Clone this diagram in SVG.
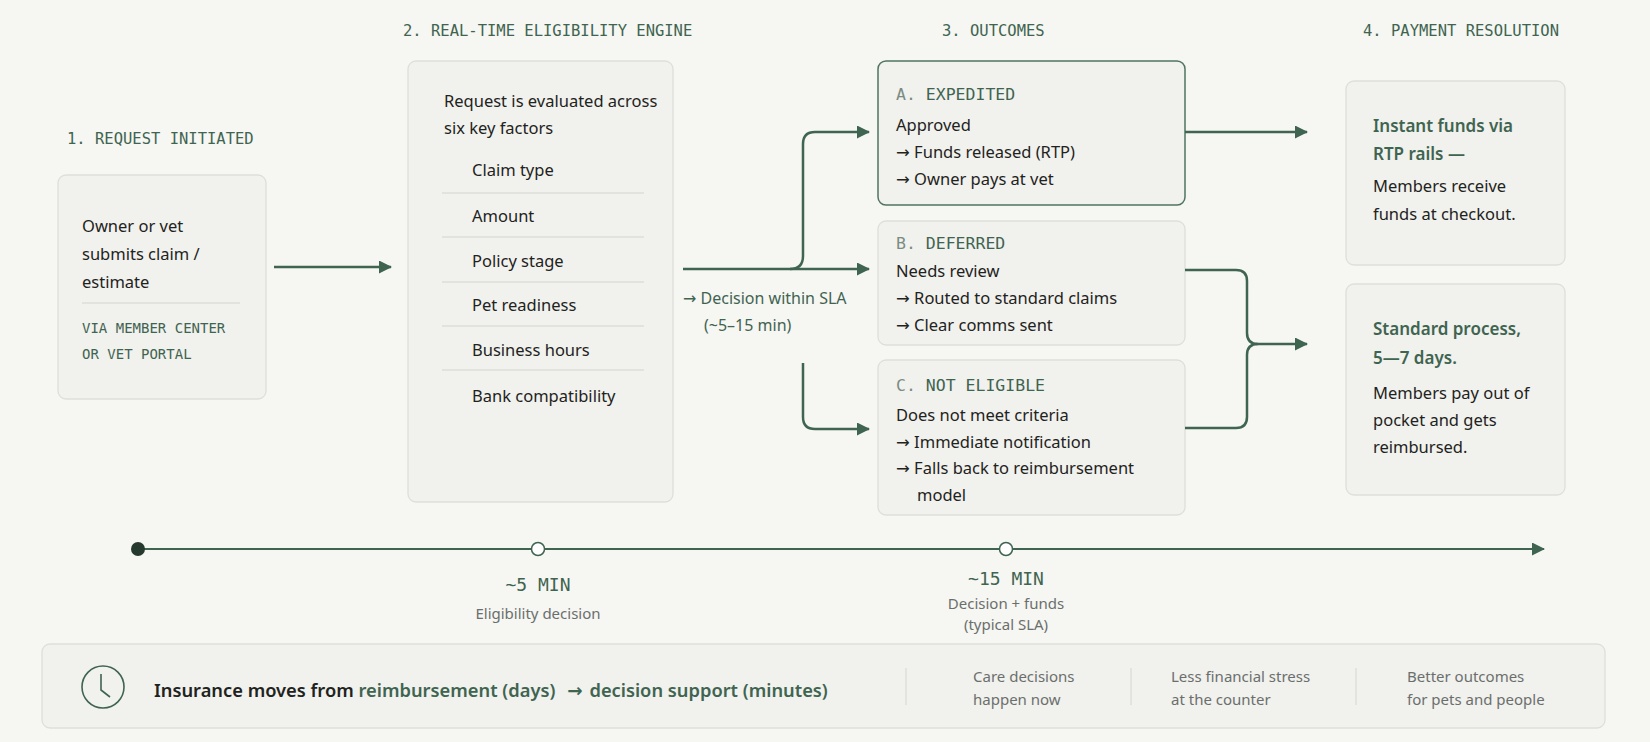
<svg xmlns="http://www.w3.org/2000/svg" width="1650" height="742" viewBox="0 0 1650 742">
<defs>
<marker id="ah" markerWidth="13" markerHeight="13" refX="12" refY="6.5" orient="auto" markerUnits="userSpaceOnUse"><path d="M0,0 L13,6.5 L0,13 z" fill="#3f6450"/></marker>
<style>
.hd{font-family:"DejaVu Sans Mono","Liberation Mono",monospace;font-size:15.5px;fill:#3f6450}
.lb{font-family:"DejaVu Sans Mono","Liberation Mono",monospace;font-size:16.5px;fill:#3f6450}
.tl{font-family:"DejaVu Sans Mono","Liberation Mono",monospace;font-size:18px;fill:#3f6450}
.mono{font-family:"DejaVu Sans Mono","Liberation Mono",monospace;font-size:14px;fill:#3f6450}
.t{font-family:"Noto Sans","Liberation Sans",sans-serif;font-size:16.5px;fill:#1e2320}
.g{font-family:"Noto Sans","Liberation Sans",sans-serif;font-size:16px;fill:#3f6450}
.gb{font-family:"Noto Sans","Liberation Sans",sans-serif;font-size:17px;fill:#3f6450;font-weight:600}
.s{font-family:"Noto Sans","Liberation Sans",sans-serif;font-size:15px;fill:#6b6f6c}
.sum{font-family:"Noto Sans","Liberation Sans",sans-serif;font-size:18.3px;fill:#1e2320;font-weight:600}
.ar{font-family:"DejaVu Sans",sans-serif}
.box{fill:#f1f1ee;stroke:#dededa;stroke-width:1.3}
.div{stroke:#dcdcd8;stroke-width:1.3}
.ln{fill:none;stroke:#3f6450;stroke-width:2.5}
</style>
</defs>
<rect width="1650" height="742" fill="#f6f6f3"/>
<text class="hd" x="67" y="144">1. REQUEST INITIATED</text>
<text class="hd" x="403" y="36">2. REAL-TIME ELIGIBILITY ENGINE</text>
<text class="hd" x="942" y="36">3. OUTCOMES</text>
<text class="hd" x="1363" y="36">4. PAYMENT RESOLUTION</text>
<g id="request">
<rect class="box" x="58" y="175" width="208" height="224" rx="8"/>
<text class="t" x="82" y="232">Owner or vet</text>
<text class="t" x="82" y="260">submits claim /</text>
<text class="t" x="82" y="288">estimate</text>
<line class="div" x1="82" y1="303" x2="240" y2="303"/>
<text class="mono" x="82" y="333">VIA MEMBER CENTER</text>
<text class="mono" x="82" y="359">OR VET PORTAL</text>
</g>
<g id="engine">
<rect class="box" x="408" y="61" width="265" height="441" rx="8"/>
<text class="t" x="444" y="107">Request is evaluated across</text>
<text class="t" x="444" y="134">six key factors</text>
<text class="t" x="472" y="176">Claim type</text>
<line class="div" x1="442" y1="193" x2="644" y2="193"/>
<text class="t" x="472" y="222">Amount</text>
<line class="div" x1="442" y1="237" x2="644" y2="237"/>
<text class="t" x="472" y="267">Policy stage</text>
<line class="div" x1="442" y1="282" x2="644" y2="282"/>
<text class="t" x="472" y="311">Pet readiness</text>
<line class="div" x1="442" y1="326" x2="644" y2="326"/>
<text class="t" x="472" y="356">Business hours</text>
<line class="div" x1="442" y1="370" x2="644" y2="370"/>
<text class="t" x="472" y="402">Bank compatibility</text>
</g>
<g id="outA">
<rect x="878" y="61" width="307" height="144" rx="8" fill="#f1f1ee" stroke="#4f7460" stroke-width="1.5"/>
<text class="lb" x="896" y="100"><tspan fill="#7a8c82">A. </tspan>EXPEDITED</text>
<text class="t" x="896" y="131">Approved</text>
<text class="t" x="896" y="158"><tspan class="ar">→</tspan> Funds released (RTP)</text>
<text class="t" x="896" y="185"><tspan class="ar">→</tspan> Owner pays at vet</text>
</g>
<g id="outB">
<rect class="box" x="878" y="221" width="307" height="124" rx="8"/>
<text class="lb" x="896" y="249"><tspan fill="#7a8c82">B. </tspan>DEFERRED</text>
<text class="t" x="896" y="277">Needs review</text>
<text class="t" x="896" y="304"><tspan class="ar">→</tspan> Routed to standard claims</text>
<text class="t" x="896" y="331"><tspan class="ar">→</tspan> Clear comms sent</text>
</g>
<g id="outC">
<rect class="box" x="878" y="360" width="307" height="155" rx="8"/>
<text class="lb" x="896" y="391"><tspan fill="#7a8c82">C. </tspan>NOT ELIGIBLE</text>
<text class="t" x="896" y="421">Does not meet criteria</text>
<text class="t" x="896" y="448"><tspan class="ar">→</tspan> Immediate notification</text>
<text class="t" x="896" y="474"><tspan class="ar">→</tspan> Falls back to reimbursement</text>
<text class="t" x="917" y="501">model</text>
</g>
<g id="pay1">
<rect class="box" x="1346" y="81" width="219" height="184" rx="8"/>
<text class="gb" x="1373" y="132">Instant funds via</text>
<text class="gb" x="1373" y="160">RTP rails —</text>
<text class="t" x="1373" y="192">Members receive</text>
<text class="t" x="1373" y="220">funds at checkout.</text>
</g>
<g id="pay2">
<rect class="box" x="1346" y="284" width="219" height="211" rx="8"/>
<text class="gb" x="1373" y="335">Standard process,</text>
<text class="gb" x="1373" y="364">5—7 days.</text>
<text class="t" x="1373" y="399">Members pay out of</text>
<text class="t" x="1373" y="426">pocket and gets</text>
<text class="t" x="1373" y="453">reimbursed.</text>
</g>
<g id="connectors">
<line class="ln" x1="274" y1="267" x2="391" y2="267" marker-end="url(#ah)"/>
<path class="ln" d="M683 269 H869" marker-end="url(#ah)"/>
<path class="ln" d="M790 269 Q803 269 803 256 V144 Q803 132 815 132 H869" marker-end="url(#ah)"/>
<path class="ln" d="M803 363 V417 Q803 429 815 429 H869" marker-end="url(#ah)"/>
<path class="ln" d="M1185 132 H1307" marker-end="url(#ah)"/>
<path class="ln" d="M1185 270 H1236 Q1247 270 1247 281 V333 Q1247 344 1258 344 H1307" marker-end="url(#ah)"/>
<path class="ln" d="M1185 428 H1236 Q1247 428 1247 417 V355 Q1247 344 1258 344"/>
<text class="g" x="683" y="304"><tspan class="ar">→</tspan> Decision within SLA</text>
<text class="g" x="704" y="331">(~5–15 min)</text>
</g>
<g id="timeline">
<line x1="138" y1="549" x2="1544" y2="549" stroke="#3f6450" stroke-width="2" marker-end="url(#ah)"/>
<circle cx="138" cy="549" r="7" fill="#26392f"/>
<circle cx="538" cy="549" r="6.5" fill="#fff" stroke="#3f6450" stroke-width="1.5"/>
<circle cx="1006" cy="549" r="6.5" fill="#fff" stroke="#3f6450" stroke-width="1.5"/>
<text class="tl" x="538" y="591" text-anchor="middle">~5 MIN</text>
<text class="s" x="538" y="619" text-anchor="middle">Eligibility decision</text>
<text class="tl" x="1006" y="585" text-anchor="middle">~15 MIN</text>
<text class="s" x="1006" y="609" text-anchor="middle">Decision + funds</text>
<text class="s" x="1006" y="630" text-anchor="middle">(typical SLA)</text>
</g>
<g id="summary">
<rect class="box" x="42" y="644" width="1563" height="84" rx="8"/>
<circle cx="103" cy="687" r="21" fill="none" stroke="#3f6450" stroke-width="1.6"/>
<path d="M101 674 V690 L110 697" fill="none" stroke="#3f6450" stroke-width="1.6"/>
<text class="sum" x="154" y="697">Insurance moves from <tspan fill="#3f6450">reimbursement (days)</tspan><tspan class="ar" fill="#3f6450" dx="12">→</tspan><tspan fill="#3f6450" dx="2"> decision support (minutes)</tspan></text>
<line class="div" x1="906" y1="668" x2="906" y2="705"/>
<line class="div" x1="1131" y1="668" x2="1131" y2="705"/>
<line class="div" x1="1356" y1="668" x2="1356" y2="705"/>
<text class="s" x="973" y="682">Care decisions</text>
<text class="s" x="973" y="705">happen now</text>
<text class="s" x="1171" y="682">Less financial stress</text>
<text class="s" x="1171" y="705">at the counter</text>
<text class="s" x="1407" y="682">Better outcomes</text>
<text class="s" x="1407" y="705">for pets and people</text>
</g>
</svg>
